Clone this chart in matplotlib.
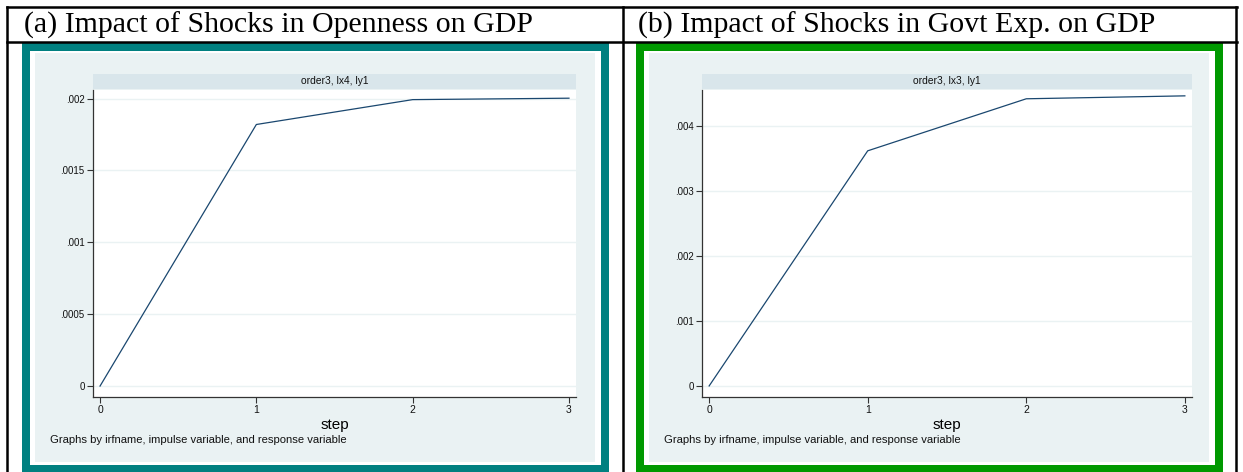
import matplotlib
matplotlib.use("Agg")
import matplotlib.pyplot as plt
from matplotlib.patches import Rectangle
from matplotlib.lines import Line2D

# ---------------------------------------------------------------------------
# Datos: respuestas al impulso (irf) por paso
# ---------------------------------------------------------------------------
steps = [0, 1, 2, 3]

irf_openness = [0.0, 0.00182, 0.001993, 0.002003]
irf_govt = [0.0, 0.003615, 0.004415, 0.00446]

yticks_openness = [0, 0.0005, 0.001, 0.0015, 0.002]
ylabels_openness = ["0", ".0005", ".001", ".0015", ".002"]
yticks_govt = [0, 0.001, 0.002, 0.003, 0.004]
ylabels_govt = ["0", ".001", ".002", ".003", ".004"]

titles = ["(a) Impact of Shocks in Openness on GDP",
          "(b) Impact of Shocks in Govt Exp. on GDP"]
strips = ["order3, lx4, ly1", "order3, lx3, ly1"]
note = "Graphs by irfname, impulse variable, and response variable"

# ---------------------------------------------------------------------------
# Estilo tipo Stata s2color
# ---------------------------------------------------------------------------
W, H = 1243, 472
GRAPH_BG = "#eaf2f3"
STRIP_BG = "#d9e6eb"
LINE_C = "#1a476f"
GRID_C = "#eaf2f3"
AX_C = "#333333"
SANS = ["Liberation Sans", "DejaVu Sans"]
SERIF = ["Liberation Serif", "DejaVu Serif"]

fig = plt.figure(figsize=(W / 100, H / 100), dpi=100)
fig.patch.set_facecolor("white")


def fx(x):
    return x / W


def fy(y):
    return 1 - y / H


def rect_px(x0, y0, x1, y1, color, z=0):
    fig.patches.append(Rectangle((fx(x0), fy(y1)), fx(x1 - x0), (y1 - y0) / H,
                                 transform=fig.transFigure, facecolor=color,
                                 edgecolor="none", zorder=z))


def hline_px(x0, x1, y, lw=1.8):
    fig.lines.append(Line2D([fx(x0), fx(x1)], [fy(y), fy(y)], transform=fig.transFigure,
                            color="black", lw=lw, zorder=5))


def vline_px(x, y0, y1, lw=1.8):
    fig.lines.append(Line2D([fx(x), fx(x)], [fy(y0), fy(y1)], transform=fig.transFigure,
                            color="black", lw=lw, zorder=5))


# Tabla contenedora
hline_px(7, 1237, 7)
hline_px(7, 1237, 42)
vline_px(7, 7, 472)
vline_px(623, 7, 472)
vline_px(1236, 7, 472)

panels = [
    dict(x0=22, x1=609, frame="#008080", ax=(93, 576), data=irf_openness,
         yt=yticks_openness, yl=ylabels_openness, ylim=(-0.000076, 0.00206)),
    dict(x0=636, x1=1223, frame="#009900", ax=(702, 1192), data=irf_govt,
         yt=yticks_govt, yl=ylabels_govt, ylim=(-0.00017, 0.00455)),
]

for i, p in enumerate(panels):
    x0, x1 = p["x0"], p["x1"]
    # Marco de color, margen blanco y fondo del gráfico
    rect_px(x0, 43, x1, 472, p["frame"], z=0)
    rect_px(x0 + 8, 51, x1 - 8, 465, "white", z=1)
    rect_px(x0 + 13, 53, x1 - 14, 462, GRAPH_BG, z=2)

    fig.text(fx(x0 + 2), fy(25), titles[i], fontsize=21.5, family=SERIF,
             ha="left", va="center", color="black")

    ax_l, ax_r = p["ax"]
    # Cabecera del subgrupo
    rect_px(ax_l, 74, ax_r, 89, STRIP_BG, z=3)
    fig.text(fx((ax_l + ax_r) / 2), fy(81.5), strips[i], fontsize=7.4, family=SANS,
             ha="center", va="center", color="#111111", zorder=4)

    ax = fig.add_axes([fx(ax_l), fy(397), fx(ax_r - ax_l), (397 - 90) / H], zorder=4)
    ax.set_facecolor("white")
    ax.plot(steps, p["data"], color=LINE_C, lw=0.9)
    ax.set_xlim(-0.045, 3.045)
    ax.set_ylim(*p["ylim"])
    ax.set_xticks(steps)
    ax.set_xticklabels([str(s) for s in steps], family=SANS, fontsize=7.5)
    ax.set_yticks(p["yt"])
    ax.set_yticklabels(p["yl"], family=SANS, fontsize=7)
    for y in p["yt"]:
        ax.axhline(y, color=GRID_C, lw=1.0, zorder=0)
    for s in ["top", "right"]:
        ax.spines[s].set_visible(False)
    for s in ["left", "bottom"]:
        ax.spines[s].set_color(AX_C)
        ax.spines[s].set_linewidth(0.9)
    ax.tick_params(axis="both", direction="out", length=4, width=0.8, color=AX_C,
                   labelcolor="#111111", pad=2)
    ax.set_xlabel("step", family=SANS, fontsize=11, labelpad=2)

    fig.text(fx(x0 + 28), fy(440), note, fontsize=8.1, family=SANS,
             ha="left", va="center", color="#111111")

fig.savefig("out.png", dpi=100, facecolor="white")
